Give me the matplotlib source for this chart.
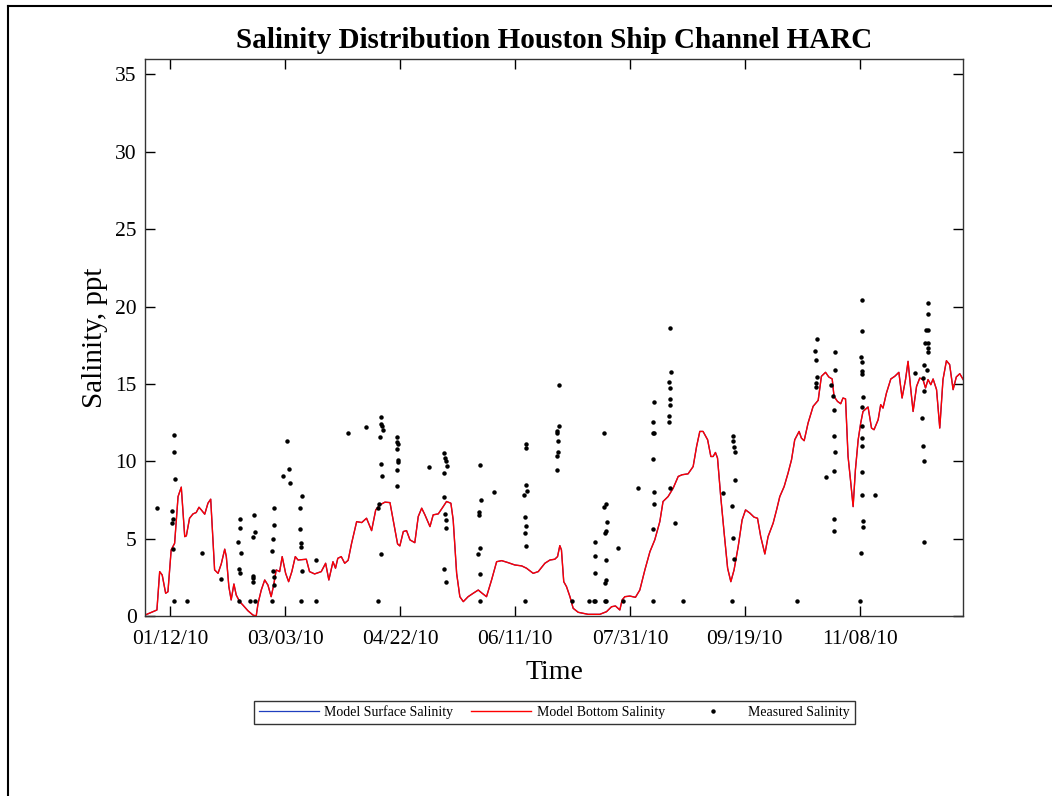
import numpy as np
import pandas as pd
import matplotlib
matplotlib.use("Agg")
import matplotlib.pyplot as plt
import matplotlib.dates as mdates
from matplotlib.lines import Line2D

# Model output, days counted from 01/01/2010
model_day = [0, 3.5, 5.2, 6.4, 7.5, 9.0, 10.0, 11.4, 12.9, 14.4, 15.8, 17.3, 18.0, 19.4,
             20.9, 22.3, 23.5, 24.5, 26.0, 27.4, 28.6, 29.6, 30.3, 31.8, 33.2, 34.7,
             35.4, 36.5, 37.5, 38.7, 39.7, 41.2, 42.6, 44.8, 47.0, 48.4, 49.2, 50.6,
             52.1, 53.5, 54.9, 56.0, 57.1, 58.6, 59.7, 61.2, 62.5, 63.9, 65.4, 66.6,
             70.2, 71.6, 73.8, 76.7, 78.6, 80.0, 81.8, 82.9, 83.9, 85.4, 86.9, 88.4,
             89.9, 92.1, 94.3, 96.4, 98.6, 100.4, 102.2, 104.4, 106.6, 108.0, 109.9,
             110.9, 112.4, 113.8, 115.3, 117.4, 118.9, 120.4, 121.8, 124.0, 125.4,
             127.6, 129.3, 131.2, 133.1, 134.1, 135.6, 137.0, 138.5, 140.6, 142.8,
             145.0, 146.7, 148.6, 150.8, 153.0, 155.2, 158.0, 160.9, 163.9, 166.0,
             168.9, 171.1, 174.0, 176.2, 178.3, 179.5, 180.5, 181.2, 182.2, 183.4,
             184.9, 186.3, 188.5, 192.8, 197.9, 200.8, 203.0, 204.7, 206.6, 207.6,
             208.8, 211.0, 213.4, 215.3, 217.5, 219.7, 221.8, 224.0, 225.4, 227.6,
             229.8, 232.0, 233.7, 236.3, 238.5, 240.0, 241.4, 242.8, 244.8, 246.2,
             247.2, 248.2, 249.1, 250.5, 252.0, 253.5, 254.9, 256.3, 258.1, 259.8,
             261.3, 263.2, 265.0, 266.5, 267.9, 269.7, 271.1, 273.3, 274.8, 276.2,
             278.1, 279.8, 281.3, 282.7, 284.6, 285.6, 286.8, 288.5, 290.7, 292.9,
             294.3, 296.1, 297.5, 299.0, 299.8, 301.3, 302.7, 303.7, 304.8, 305.9,
             307.1, 308.1, 309.1, 310.3, 311.4, 312.4, 314.6, 316.1, 317.2, 319.0,
             320.1, 321.1, 322.6, 324.5, 326.2, 328.0, 329.4, 330.9, 332.0, 333.2,
             334.2, 335.7, 337.1, 338.5, 339.6, 340.7, 341.9, 342.9, 344.4, 345.8,
             347.2, 348.7, 350.1, 351.6, 353.0, 354.5, 356.0]
bottom_sal = [0.06, 0.28, 0.39, 2.87, 2.65, 1.47, 1.57, 4.27, 4.7, 7.72, 8.33, 5.13, 5.18, 6.32,
              6.6, 6.69, 7.03, 6.86, 6.58, 7.29, 7.55, 4.92, 2.98, 2.76, 3.37, 4.32,
              3.84, 1.9, 1.04, 2.07, 1.36, 0.93, 0.71, 0.34, 0.06, 0.0, 0.82, 1.68,
              2.33, 2.0, 1.25, 2.0, 2.98, 2.87, 3.84, 2.76, 2.22, 2.87, 3.84, 3.62,
              3.67, 2.87, 2.72, 2.87, 3.41, 2.33, 3.51, 3.09, 3.73, 3.84, 3.41, 3.6,
              4.7, 6.1, 6.04, 6.32, 5.52, 6.86, 7.18, 7.36, 7.33, 6.21, 4.66,
              4.53, 5.46, 5.52, 4.92, 4.74, 6.43, 6.97, 6.54, 5.78, 6.54,
              6.6, 6.97, 7.4, 7.29, 6.21, 2.76, 1.25, 0.93, 1.25, 1.47,
              1.68, 1.47, 1.25, 2.33, 3.51, 3.58, 3.45, 3.3, 3.24, 3.09,
              2.76, 2.87, 3.41, 3.62, 3.67, 3.84, 4.55, 4.27, 2.22, 1.9,
              1.25, 0.5, 0.24, 0.11, 0.11, 0.28, 0.6, 0.65, 0.39, 1.04,
              1.25, 1.29, 1.21, 1.68, 2.98, 4.16, 4.92, 6.1, 7.4, 7.72,
              8.26, 9.02, 9.13, 9.19, 9.66, 10.96, 11.93, 11.93, 11.39, 10.31,
              10.31, 10.57, 10.21, 7.72, 5.35, 3.09, 2.22, 2.98, 4.49, 6.21,
              6.86, 6.65, 6.39, 6.32, 5.13, 4.01, 5.13, 6.0, 6.86, 7.72,
              8.37, 9.24, 10.1, 11.39, 11.93, 11.5, 11.33, 12.47, 13.55, 13.94,
              15.49, 15.75, 15.45, 15.32, 14.19, 13.87, 13.72, 14.09, 14.03, 10.31,
              8.59, 7.07, 9.45, 11.39, 12.47, 13.22, 13.51, 12.15, 12.04, 12.69,
              13.66, 13.44, 14.41, 15.32, 15.49, 15.75, 14.09, 15.28, 16.46, 14.63,
              13.22, 14.84, 15.38, 15.28, 14.74, 15.28, 14.95, 15.32, 14.63, 12.15,
              15.28, 16.5, 16.25, 14.63, 15.45, 15.66, 15.28]
# surface and bottom are practically identical (well mixed), surface is hidden underneath
surface_sal = list(bottom_sal)

# Field samples, days counted from 01/01/2010
obs_day = [5.2, 12.5, 12.5, 12.9, 11.9, 12.2, 11.9, 12.2, 12.5, 18.4, 24.8, 32.9,
           41.2, 41.2, 40.5, 41.6, 40.9, 41.2, 40.8, 45.5, 48.0, 47.4, 47.7, 47.0,
           47.0, 47.0, 47.0, 55.4, 56.0, 56.0, 55.7, 55.2, 55.7, 56.0, 56.0,
           61.8, 62.5, 60.0, 62.9, 68.3, 67.6, 67.3, 68.0, 68.0, 68.4, 67.7,
           74.2, 74.2, 88.4, 96.0, 102.7, 102.7, 103.2, 103.4, 102.2, 102.5,
           103.0, 101.9, 101.2, 102.5, 101.5, 109.7, 109.5, 110.2, 109.5, 110.2,
           109.9, 109.5, 109.7, 123.7, 130.2, 130.5, 130.8, 131.2, 130.1, 130.2,
           130.5, 130.8, 130.8, 130.1, 130.8, 145.7, 146.2, 145.3, 145.3, 145.7,
           145.0, 145.7, 145.7, 151.8, 165.7, 165.6, 165.7, 166.0, 165.0, 165.3,
           165.6, 165.3, 165.7, 165.3, 180.1, 180.2, 179.3, 179.4, 179.8, 179.8,
           179.1, 179.3, 186.0, 193.1, 195.3, 195.7, 199.8, 200.4, 199.8, 201.0,
           200.4, 200.2, 196.0, 205.6, 195.7, 200.5, 195.7, 200.5, 200.1, 200.2,
           200.7, 208.1, 214.6, 221.1, 233.9, 221.5, 221.1, 221.1, 221.5, 221.1,
           221.5, 221.5, 221.1, 228.4, 228.8, 227.9, 228.4, 228.4, 228.4, 228.1,
           228.1, 228.4, 230.5, 255.9, 255.9, 256.3, 256.6, 256.9, 251.3, 255.6,
           255.9, 256.3, 255.6, 283.9, 292.2, 291.6, 291.9, 292.2, 292.1, 292.1,
           300.4, 300.1, 298.3, 299.4, 299.8, 299.8, 300.1, 299.8, 296.5, 299.8,
           299.7, 312.0, 311.9, 311.7, 311.9, 312.0, 312.0, 312.4, 312.0, 312.0,
           312.0, 311.9, 312.0, 312.0, 317.5, 312.5, 312.2, 311.4, 311.0, 340.7,
           340.7, 339.7, 340.7, 339.3, 340.5, 340.7, 340.5, 338.8, 340.3, 334.9,
           338.5, 339.0, 338.1, 338.5, 338.8, 339.0]
obs_sal = [7.01, 11.72, 10.63, 8.87, 6.8, 6.26, 6.04, 4.32, 0.99, 0.99, 4.1, 2.42,
           6.26, 5.72, 4.81, 4.1, 3.02, 2.8, 0.99, 0.99, 0.99, 6.52, 5.42, 5.13,
           2.59, 2.48, 2.22, 0.99, 6.97, 5.89, 5.0, 4.23, 2.91, 2.5, 2.0,
           11.3, 9.51, 9.02, 8.61, 7.77, 7.01, 5.61, 4.7, 4.49, 2.91, 0.99,
           3.62, 0.99, 11.82, 12.21, 12.84, 12.4, 12.3, 12.0, 11.6, 9.82,
           9.02, 7.23, 7.01, 3.99, 0.99, 11.54, 11.22, 11.1, 10.81, 10.1,
           9.98, 9.41, 8.41, 9.62, 10.53, 10.21, 10.03, 9.71, 9.24, 7.68,
           6.6, 6.21, 5.72, 3.02, 2.2, 9.73, 7.51, 6.75, 6.54, 4.42,
           4.01, 2.72, 0.99, 8.01, 11.13, 10.89, 8.5, 8.11, 7.81, 6.39,
           5.83, 5.39, 4.53, 0.99, 14.9, 12.3, 11.97, 11.8, 11.33, 10.61,
           10.31, 9.41, 0.99, 0.99, 0.99, 0.99, 11.8, 7.23, 7.03, 6.1,
           5.52, 5.35, 4.81, 4.38, 3.9, 3.62, 2.8, 2.33, 2.12, 0.99,
           0.99, 0.99, 8.3, 0.99, 0.99, 13.83, 12.51, 11.82, 11.82, 10.12,
           8.0, 7.23, 5.61, 18.62, 15.75, 15.13, 14.71, 14.02, 13.61, 12.9,
           12.51, 8.3, 6.04, 11.65, 11.33, 10.92, 10.59, 8.8, 7.92, 7.12,
           5.03, 3.69, 0.99, 0.99, 17.93, 17.11, 16.52, 15.42, 15.06, 14.8,
           17.04, 15.92, 14.93, 14.24, 13.31, 11.63, 10.61, 9.38, 9.0, 6.26,
           5.52, 20.41, 18.4, 16.72, 16.4, 15.86, 15.66, 14.17, 13.51, 12.28,
           11.5, 11.0, 9.3, 7.81, 7.81, 6.15, 5.78, 4.08, 0.99, 20.22,
           19.53, 18.49, 18.49, 17.65, 17.65, 17.33, 17.04, 16.22, 15.92, 15.71,
           15.38, 14.52, 12.82, 11.02, 9.99, 4.81]

tick_dates = ["2010-01-12", "2010-03-03", "2010-04-22", "2010-06-11",
              "2010-07-31", "2010-09-19", "2010-11-08"]

start = pd.Timestamp("2010-01-01")
t_model = start + pd.to_timedelta(model_day, unit="D")
t_obs = start + pd.to_timedelta(obs_day, unit="D")

plt.rcParams["font.family"] = ["Liberation Serif", "DejaVu Serif"]

fig = plt.figure(figsize=(10.52, 7.96), dpi=100)
ax = fig.add_axes([0.1378, 0.2261, 0.7778, 0.6998])

ax.plot(t_model, surface_sal, color="#1f3fbf", lw=0.9, label="Model Surface Salinity")
ax.plot(t_model, bottom_sal, color="#ff0000", lw=1.0, label="Model Bottom Salinity")
ax.plot(t_obs, obs_sal, ls="none", marker="o", ms=2.2, color="black",
        label="Measured Salinity")

ax.set_xlim(start, start + pd.Timedelta(days=356))
ax.set_ylim(0, 36)
ax.set_yticks(np.arange(0, 36, 5))
ax.set_xticks(pd.to_datetime(tick_dates))
ax.xaxis.set_major_formatter(mdates.DateFormatter("%m/%d/%y"))
ax.tick_params(direction="in", length=7, width=1, top=True, right=True,
               labelsize=15.5, colors="black")
ax.tick_params(axis="x", pad=10)
ax.tick_params(axis="y", pad=6)
for s in ax.spines.values():
    s.set_linewidth(1.0)
    s.set_color("#333333")

ax.set_title("Salinity Distribution Houston Ship Channel HARC",
             fontsize=21, fontweight="bold", pad=8)
ax.set_xlabel("Time", fontsize=20, labelpad=8)
ax.set_ylabel("Salinity, ppt", fontsize=21, labelpad=5)

fig.legend(loc="center", bbox_to_anchor=(0.527, 0.105), ncol=3, fontsize=10,
           frameon=True, fancybox=False, edgecolor="black", handlelength=4.3,
           handletextpad=0.4, columnspacing=1.3, borderpad=0.35, markerscale=1.0)

# frame lines along the left and top of the figure
fig.add_artist(Line2D([0.0076, 0.0076], [0, 0.9925], transform=fig.transFigure,
                      color="black", lw=1.5))
fig.add_artist(Line2D([0.0076, 1.0], [0.9925, 0.9925], transform=fig.transFigure,
                      color="black", lw=1.5))

fig.savefig("out.png", dpi=100, facecolor="white")
